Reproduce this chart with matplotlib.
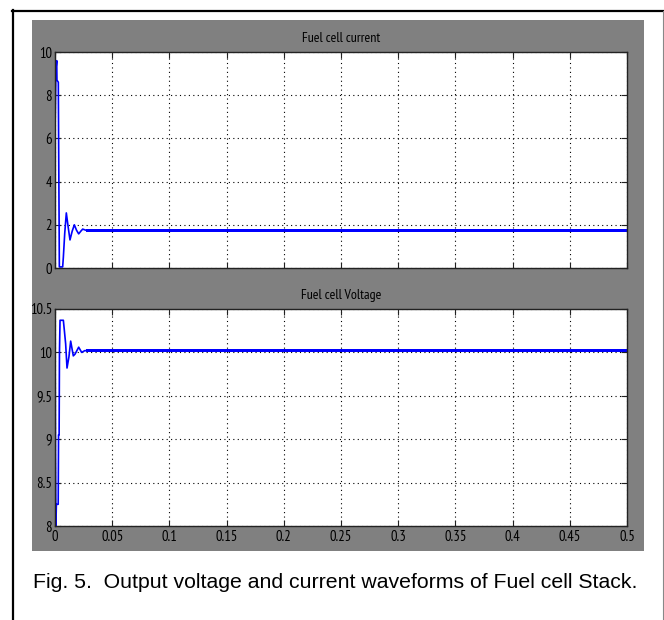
import numpy as np
import matplotlib
matplotlib.use("Agg")
import matplotlib.pyplot as plt
from matplotlib.lines import Line2D
from matplotlib.patches import Rectangle

# %% Data

t_current = [0, 0.0008, 0.0015, 0.0017, 0.0029, 0.0032, 0.0036, 0.0038, 0.0067,
             0.0073, 0.0085, 0.0099, 0.0115, 0.0131, 0.015, 0.0169, 0.0188,
             0.0207, 0.0225, 0.0242, 0.027, 0.5]
current = [6.3, 9.2, 9.6, 8.7, 8.6, 5.6, 2.0, 0.05, 0.05, 0.5, 1.6, 2.55, 1.9,
           1.3, 1.7, 2.0, 1.75, 1.58, 1.7, 1.8, 1.75, 1.75]
current_ripple = [1.68, 1.82]   # band of the steady ripple

t_voltage = [0, 0.0004, 0.0008, 0.0012, 0.0016, 0.0028, 0.0031, 0.0036, 0.0039,
             0.0044, 0.0073, 0.0082, 0.0093, 0.0105, 0.0122, 0.0137, 0.016,
             0.0175, 0.0207, 0.0233, 0.026, 0.5]
voltage = [10.35, 8.85, 8.0, 8.25, 8.25, 8.25, 9.05, 9.05, 10.0, 10.37, 10.37,
           10.25, 10.1, 9.82, 9.95, 10.13, 9.96, 9.98, 10.06, 10.0, 10.02, 10.02]
voltage_ripple = [10.0, 10.04]

t_steady = [0.027, 0.5]
x_ticks = [0, 0.05, 0.1, 0.15, 0.2, 0.25, 0.3, 0.35, 0.4, 0.45, 0.5]
x_ticklabels = ["0", "0.05", "0.1", "0.15", "0.2", "0.25", "0.3", "0.35", "0.4", "0.45", "0.5"]
yticks_current = [0, 2, 4, 6, 8, 10]
yticks_voltage = [8, 8.5, 9, 9.5, 10, 10.5]
yticklabels_voltage = ["8", "8.5", "9", "9.5", "10", "10.5"]

# %% Figure

W, H = 664, 620
fig = plt.figure(figsize=(W / 100, H / 100), dpi=100)
narrow = ["PT Sans Narrow", "Roboto Condensed", "DejaVu Sans"]

def fx(px):
    return px / W

def fy(py):
    return 1 - py / H

# page frame lines and matlab grey window
fig.add_artist(Line2D([fx(12.5), fx(12.5)], [fy(9.5), 0], color="black", lw=1.6))
fig.add_artist(Line2D([fx(11.7), 1], [fy(10.5), fy(10.5)], color="black", lw=1.6))
fig.add_artist(Line2D([fx(663), fx(663)], [fy(10.5), 0], color="#888888", lw=0.8))
fig.add_artist(Rectangle((fx(32), fy(551)), fx(644) - fx(32), fy(20) - fy(551),
                         facecolor="#808080", edgecolor="none", transform=fig.transFigure, zorder=0))

ax1 = fig.add_axes([fx(55), fy(268), fx(627) - fx(55), fy(52) - fy(268)])
ax2 = fig.add_axes([fx(55), fy(526), fx(627) - fx(55), fy(309) - fy(526)])

for ax in (ax1, ax2):
    ax.set_facecolor("white")
    ax.set_xlim(0, 0.5)
    ax.set_xticks(x_ticks)
    ax.grid(True, color="black", linestyle=(0, (1, 3)), linewidth=0.8)
    ax.tick_params(direction="in", top=True, right=True, length=4, width=0.8,
                   colors="#222222", labelsize=10.5)
    for s in ax.spines.values():
        s.set_color("#222222")
        s.set_linewidth(1.0)

ax1.plot(t_current, current, color="blue", lw=1.2)
ax1.fill_between(t_steady, current_ripple[0], current_ripple[1], color="blue", lw=0)
ax1.set_ylim(0, 10)
ax1.set_yticks(yticks_current)
ax1.set_xticklabels([])
ax1.set_title("Fuel cell current", fontsize=10, family=narrow, pad=7)

ax2.plot(t_voltage, voltage, color="blue", lw=1.2)
ax2.fill_between(t_steady, voltage_ripple[0], voltage_ripple[1], color="blue", lw=0)
ax2.set_ylim(8, 10.5)
ax2.set_yticks(yticks_voltage)
ax2.set_yticklabels(yticklabels_voltage)
ax2.set_xticklabels(x_ticklabels)
ax2.set_title("Fuel cell Voltage", fontsize=10, family=narrow, pad=7)

for ax in (ax1, ax2):
    for lab in ax.get_xticklabels() + ax.get_yticklabels():
        lab.set_family(narrow)
        lab.set_color("black")
    ax.tick_params(axis="x", pad=3)
    ax.tick_params(axis="y", pad=2)

fig.text(fx(33), fy(582), "Fig. 5.  Output voltage and current waveforms of Fuel cell Stack.",
         fontsize=15.3, family=["Liberation Sans", "DejaVu Sans"], va="center", ha="left")

fig.savefig("out.png", dpi=100)
